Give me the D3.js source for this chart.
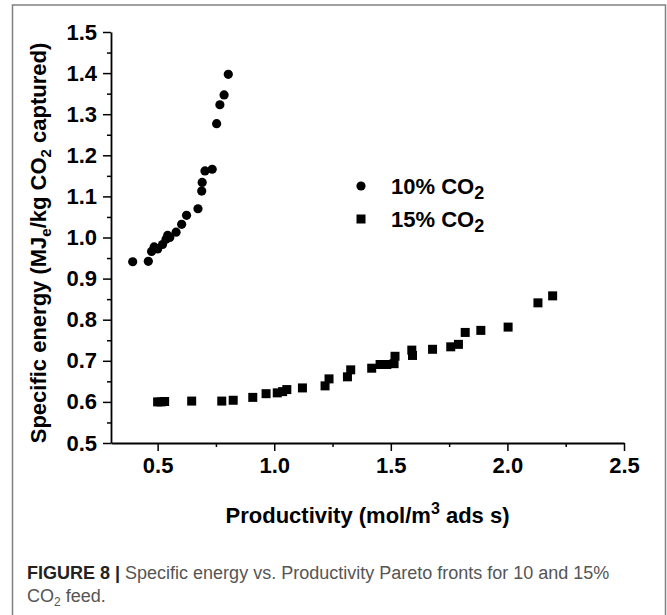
<!DOCTYPE html>
<html><head><meta charset="utf-8">
<script src="https://cdn.jsdelivr.net/npm/d3@7"></script>
<style>
html,body{margin:0;padding:0;background:#fff;}
svg{display:block;}
text{font-family:"Liberation Sans",Arial,Helvetica,sans-serif;}
</style></head>
<body>
<svg id="chart" width="667" height="615"></svg>
<script>
// ---- data ----
const co2_10_x = [0.393,0.460,0.474,0.485,0.500,0.521,0.536,0.543,0.552,0.579,0.603,0.624,0.673,0.689,0.691,0.703,0.734,0.753,0.767,0.785,0.803];
const co2_10_y = [0.941,0.942,0.966,0.977,0.972,0.983,0.996,1.005,1.000,1.013,1.032,1.054,1.070,1.113,1.134,1.162,1.166,1.277,1.323,1.347,1.397];
const co2_15_x = [0.500,0.515,0.530,0.646,0.775,0.824,0.908,0.965,1.013,1.036,1.054,1.121,1.218,1.235,1.314,1.328,1.418,1.454,1.483,1.514,1.518,1.590,1.593,1.679,1.757,1.790,1.819,1.886,2.003,2.131,2.194];
const co2_15_y = [0.600,0.600,0.601,0.602,0.602,0.604,0.611,0.620,0.622,0.625,0.630,0.634,0.639,0.656,0.661,0.678,0.682,0.691,0.691,0.693,0.711,0.726,0.713,0.728,0.734,0.740,0.769,0.774,0.782,0.841,0.858];
const xTicks = [0.5,1.0,1.5,2.0,2.5];
const xMinor = [0.75,1.25,1.75,2.25];
const yTicks = [0.5,0.6,0.7,0.8,0.9,1.0,1.1,1.2,1.3,1.4,1.5];
const yMinor = [0.55,0.65,0.75,0.85,0.95,1.05,1.15,1.25,1.35,1.45];
const legendLabels = ["10% CO", "15% CO"];

const svg = d3.select("#chart");

// figure frame
svg.append("rect").attr("x",12.5).attr("y",5).attr("width",653).attr("height",640)
  .attr("fill","none").attr("stroke","#808080").attr("stroke-width",1.5);

const x = d3.scaleLinear().domain([0.3,2.5]).range([111,624]);
const y = d3.scaleLinear().domain([0.5,1.5]).range([443,32]);

const fontSize = 22;

// axes
const gx = svg.append("g").attr("transform",`translate(0,${y(0.5)})`)
  .call(d3.axisBottom(x).tickValues(xTicks).tickFormat(d3.format(".1f")).tickSize(8).tickSizeOuter(0).tickPadding(6));
const gxm = svg.append("g").attr("transform",`translate(0,${y(0.5)})`)
  .call(d3.axisBottom(x).tickValues(xMinor).tickFormat("").tickSize(4).tickSizeOuter(0));
gxm.select(".domain").remove();

const gy = svg.append("g").attr("transform",`translate(${x(0.3)},0)`)
  .call(d3.axisLeft(y).tickValues(yTicks).tickFormat(d3.format(".1f")).tickSize(8).tickSizeOuter(0).tickPadding(6));
const gym = svg.append("g").attr("transform",`translate(${x(0.3)},0)`)
  .call(d3.axisLeft(y).tickValues(yMinor).tickFormat("").tickSize(4).tickSizeOuter(0));
gym.select(".domain").remove();

[gx,gxm,gy,gym].forEach(g=>{
  g.selectAll(".domain").attr("stroke","#000").attr("stroke-width",1.8);
  g.selectAll(".tick line").attr("stroke","#000").attr("stroke-width",1.5);
  g.selectAll(".tick text").attr("fill","#000").attr("font-size",fontSize).attr("font-weight","bold")
    .attr("font-family",'"Liberation Sans",Arial,sans-serif');
});

// data marks
const pts10 = co2_10_x.map((v,i)=>({x:v,y:co2_10_y[i]}));
const pts15 = co2_15_x.map((v,i)=>({x:v,y:co2_15_y[i]}));
const sq = 9;
svg.append("g").selectAll("rect").data(pts15).join("rect")
  .attr("x",d=>x(d.x)-sq/2).attr("y",d=>y(d.y)-sq/2).attr("width",sq).attr("height",sq).attr("fill","#000");
svg.append("g").selectAll("circle").data(pts10).join("circle")
  .attr("cx",d=>x(d.x)).attr("cy",d=>y(d.y)).attr("r",4.6).attr("fill","#000");

// legend
const lg = svg.append("g");
lg.append("circle").attr("cx",361).attr("cy",186).attr("r",4.6).attr("fill","#000");
lg.append("rect").attr("x",361-4.5).attr("y",219-4.5).attr("width",9).attr("height",9).attr("fill","#000");
legendLabels.forEach((lab,i)=>{
  const t = lg.append("text").attr("x",391).attr("y",193.5+i*33.5)
    .attr("font-size",fontSize).attr("font-weight","bold").attr("fill","#000");
  t.append("tspan").text(lab);
  t.append("tspan").attr("font-size",18).attr("dy",5).text("2");
});

// x axis title
const xt = svg.append("text").attr("x",367.5).attr("y",523).attr("text-anchor","middle")
  .attr("font-size",fontSize).attr("font-weight","bold").attr("fill","#000");
xt.append("tspan").text("Productivity (mol/m");
xt.append("tspan").attr("font-size",16).attr("dy",-9).text("3");
xt.append("tspan").attr("dy",9).text(" ads s)");

// y axis title
const yt = svg.append("text").attr("transform","translate(46,243) rotate(-90)").attr("text-anchor","middle")
  .attr("font-size",fontSize).attr("font-weight","bold").attr("fill","#000");
yt.append("tspan").text("Specific energy (MJ");
yt.append("tspan").attr("font-size",15).attr("dy",5).text("e");
yt.append("tspan").attr("dy",-5).text("/kg CO");
yt.append("tspan").attr("font-size",15).attr("dy",5).text("2");
yt.append("tspan").attr("dy",-5).text(" captured)");

// caption
const capSize = 18;
const c1 = svg.append("text").attr("x",27).attr("y",579).attr("font-size",capSize).attr("fill","#555");
c1.append("tspan").attr("font-weight","bold").attr("fill","#222").text("FIGURE 8 | ");
c1.append("tspan").text("Specific energy vs. Productivity Pareto fronts for 10 and 15%");
const c2 = svg.append("text").attr("x",27).attr("y",602).attr("font-size",capSize).attr("fill","#555");
c2.append("tspan").text("CO");
c2.append("tspan").attr("font-size",12).attr("dy",4).text("2");
c2.append("tspan").attr("dy",-4).text(" feed.");
</script>
</body></html>
